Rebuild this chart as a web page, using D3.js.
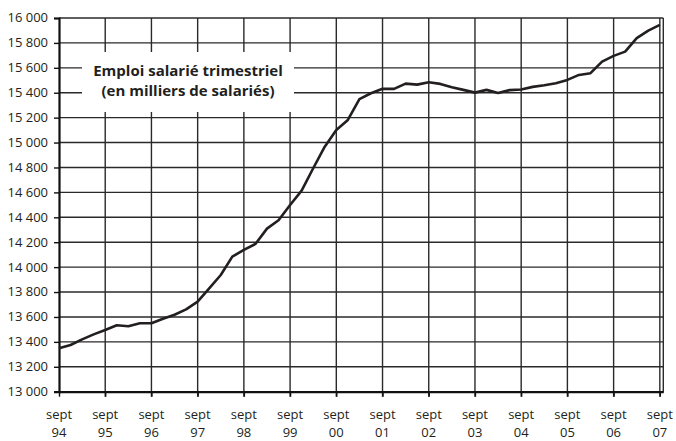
<!DOCTYPE html>
<html><head><meta charset="utf-8">
<script src="https://cdn.jsdelivr.net/npm/d3@7"></script>
<style>
html,body{margin:0;padding:0;background:#fff;}
svg{display:block;}
text{font-family:"Open Sans","DejaVu Sans",sans-serif;fill:#231f20;}
</style></head>
<body>
<svg id="chart" width="676" height="441"></svg>
<script>
// Quarterly salaried employment (thousands), Sept 1994 -> Sept 2007
const employment = [
  13348, 13375, 13420, 13460, 13495, 13533, 13525, 13549, 13549, 13586,
  13618, 13661, 13723, 13830, 13937, 14084, 14138, 14186, 14309, 14376,
  14499, 14614, 14794, 14967, 15101, 15182, 15348, 15396, 15432, 15431,
  15473, 15465, 15484, 15471, 15444, 15423, 15401, 15423, 15398, 15421,
  15426, 15447, 15460, 15476, 15503, 15543, 15557, 15650, 15696, 15730,
  15838, 15899, 15945
];
const tickMonth = "sept";
const tickYears = ["94","95","96","97","98","99","00","01","02","03","04","05","06","07"];
const yTicks = [13000,13200,13400,13600,13800,14000,14200,14400,14600,14800,15000,15200,15400,15600,15800,16000];
const titleLines = ["Emploi salarié trimestriel", "(en milliers de salariés)"];

const svg = d3.select("#chart");
const x = d3.scaleLinear().domain([0, 52.3]).range([59, 663.3]);
const y = d3.scaleLinear().domain([13000, 16000]).range([391.7, 18]);
const fmt = v => d3.format(",")(v).replace(/,/g, " ");
const gridColor = "#2a2a2a";

// horizontal gridlines
svg.append("g").selectAll("line").data(yTicks.slice(1)).join("line")
  .attr("x1", x(0)).attr("x2", x.range()[1])
  .attr("y1", d => y(d)).attr("y2", d => y(d))
  .attr("stroke", gridColor).attr("stroke-width", 1.4);

// vertical gridlines
const xTickIdx = tickYears.map((_, i) => i * 4);
svg.append("g").selectAll("line").data(xTickIdx.slice(1)).join("line")
  .attr("x1", d => x(d)).attr("x2", d => x(d))
  .attr("y1", y(16000)).attr("y2", y(13000) + 5)
  .attr("stroke", gridColor).attr("stroke-width", 1.4);

// right border
svg.append("line")
  .attr("x1", x.range()[1]).attr("x2", x.range()[1])
  .attr("y1", y(16000)).attr("y2", y(13000))
  .attr("stroke", gridColor).attr("stroke-width", 1.4);

// y axis
const yAxis = svg.append("g").attr("transform", `translate(${x(0)},0)`)
  .call(d3.axisLeft(y).tickValues(yTicks).tickFormat(fmt).tickSize(5).tickPadding(6));
yAxis.select(".domain").attr("stroke", "#111").attr("stroke-width", 2.2);
yAxis.selectAll(".tick line").attr("stroke", "#111").attr("stroke-width", 1.4);
yAxis.selectAll(".tick text").attr("font-size", 13).attr("fill", "#231f20")
  .attr("font-family", '"Open Sans","DejaVu Sans",sans-serif').attr("dy", "0.3em");

// x axis
const xAxis = svg.append("g").attr("transform", `translate(0,${y(13000)})`)
  .call(d3.axisBottom(x).tickValues(xTickIdx).tickFormat("").tickSize(5).tickSizeOuter(0));
xAxis.select(".domain").attr("stroke", "#111").attr("stroke-width", 2.2);
xAxis.selectAll(".tick line").attr("stroke", "#111").attr("stroke-width", 1.4);
const lbl = svg.append("g").selectAll("text").data(tickYears).join("text")
  .attr("x", (d, i) => x(i * 4)).attr("text-anchor", "middle").attr("font-size", 13);
lbl.append("tspan").attr("x", (d, i) => x(i * 4)).attr("y", 419).text(tickMonth);
lbl.append("tspan").attr("x", (d, i) => x(i * 4)).attr("y", 437).text(d => d);

// title box
svg.append("rect").attr("x", 82).attr("y", 52).attr("width", 212).attr("height", 60).attr("fill", "#fff");
svg.append("g").selectAll("text").data(titleLines).join("text")
  .attr("x", 188).attr("y", (d, i) => 76 + i * 20)
  .attr("text-anchor", "middle").attr("font-size", 15).attr("font-weight", "bold")
  .text(d => d);

// data line
svg.append("path").datum(employment)
  .attr("fill", "none").attr("stroke", "#231f20").attr("stroke-width", 2.6)
  .attr("stroke-linejoin", "round")
  .attr("d", d3.line().x((d, i) => x(i)).y(d => y(d)));
</script>
</body></html>
